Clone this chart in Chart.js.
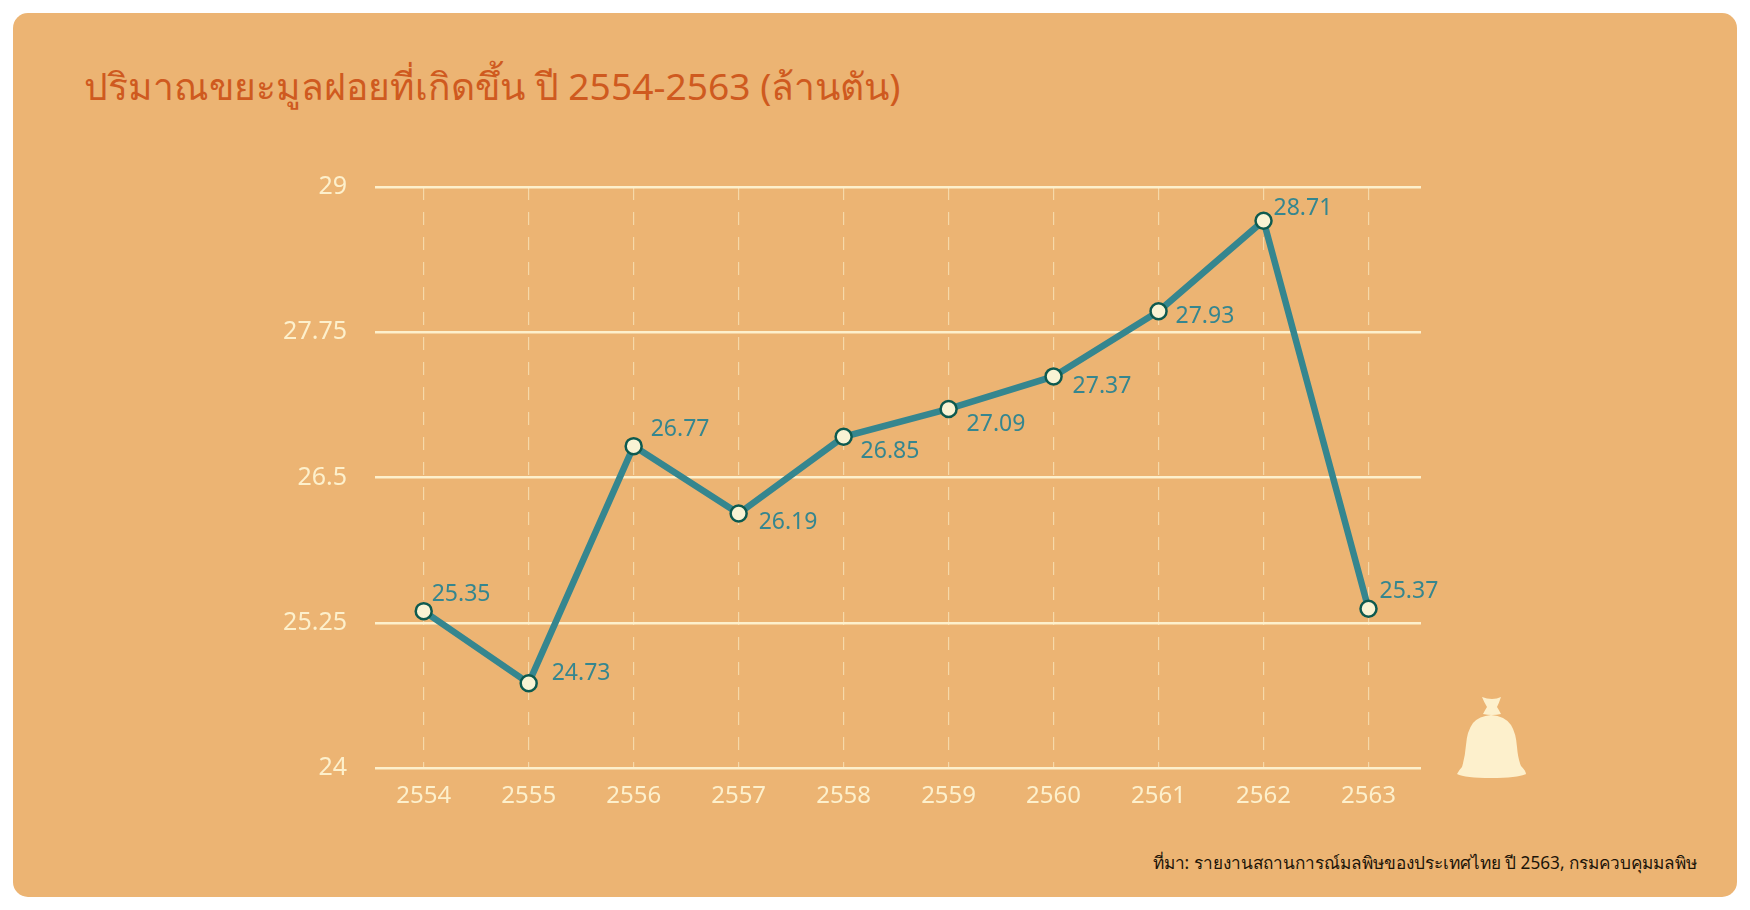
<!DOCTYPE html>
<html lang="th">
<head>
<meta charset="utf-8">
<title>ปริมาณขยะมูลฝอยที่เกิดขึ้น</title>
<script src="https://cdn.jsdelivr.net/npm/chart.js"></script>
<style>
    html, body { margin: 0; padding: 0; background: #fff; }
    body { width: 1750px; height: 910px; position: relative; overflow: hidden; font-family: "Noto Sans", "DejaVu Sans", sans-serif; }
    .panel { position: absolute; left: 13px; top: 13px; width: 1724px; height: 884px; background: #ecb473; border-radius: 15px; }
    .title { position: absolute; left: 84px; top: 57px; font-size: 37.2px; color: #cf5a1f; white-space: nowrap; }
    .source { position: absolute; right: 53px; top: 849px; font-size: 17.2px; color: #1c1409; white-space: nowrap; }
    canvas { position: absolute; left: 0; top: 0; }
    .bag { position: absolute; left: 1457px; top: 697px; }
</style>
</head>
<body>
<div class="panel"></div>
<div class="title">ปริมาณขยะมูลฝอยที่เกิดขึ้น ปี 2554-2563 (ล้านตัน)</div>
<div class="source">ที่มา: รายงานสถานการณ์มลพิษของประเทศไทย ปี 2563, กรมควบคุมมลพิษ</div>
<svg class="bag" width="69" height="81" viewBox="0 0 69 81">
    <path fill="#fdf0cc" d="M25 0 Q30 2 35 2 Q40 2 44 0 Q42 6 40 10 Q42 13 44 17 Q35 19 26 17 Q28 13 30 10 Q27 5 25 0 Z"/>
    <path fill="#fdf0cc" d="M34 18 Q48 19 54 28 Q59 36 60 50 Q61 62 64 69 Q69 74 69 77 Q60 81 34 81 Q8 81 0 77 Q2 73 5 70 Q8 60 9 48 Q10 34 16 26 Q22 19 34 18 Z"/>
</svg>
<canvas id="chart" width="1750" height="910"></canvas>
<script>
const years = [2554, 2555, 2556, 2557, 2558, 2559, 2560, 2561, 2562, 2563];
const waste = [25.35, 24.73, 26.77, 26.19, 26.85, 27.09, 27.37, 27.93, 28.71, 25.37];
const yTicks = [24, 25.25, 26.5, 27.75, 29];

const cream = "#fdf0cc";
const teal = "#35868f";

// label offset from its point: [dx, dy]
const labelOffsets = [[8, -17], [23, -10], [17, -17], [20, 9], [17, 15], [18, 16], [19, 10], [17, 5], [10, -12], [11, -17]];

// value labels next to the points
const valueLabels = {
    id: "valueLabels",
    afterDatasetsDraw(chart) {
        const ctx = chart.ctx;
        const points = chart.getDatasetMeta(0).data;
        ctx.save();
        ctx.font = "23px 'Noto Sans'";
        ctx.fillStyle = teal;
        ctx.textAlign = "left";
        ctx.textBaseline = "middle";
        points.forEach((p, i) => {
            ctx.fillText(waste[i].toFixed(2), p.x + labelOffsets[i][0], p.y + labelOffsets[i][1]);
        });
        ctx.restore();
    }
};

new Chart(document.getElementById("chart"), {
    type: "line",
    data: {
        datasets: [{
            data: years.map((y, i) => ({ x: y, y: waste[i] })),
            borderColor: teal,
            borderWidth: 6.5,
            tension: 0,
            pointRadius: 8,
            pointBorderWidth: 2.5,
            pointBackgroundColor: "#f9f3d4",
            pointBorderColor: "#0d5a4f",
            clip: false
        }]
    },
    options: {
        responsive: false,
        animation: false,
        layout: { padding: { left: 0, right: 329, top: 187, bottom: 0 } },
        plugins: { legend: { display: false }, tooltip: { enabled: false } },
        scales: {
            x: {
                type: "linear",
                min: 2553.536,
                max: 2563.5,
                afterBuildTicks: (s) => { s.ticks = years.map((v) => ({ value: v })); },
                afterFit: (s) => { s.height = 142; },
                grid: { color: "rgba(253,240,204,0.6)", lineWidth: 1.2, drawTicks: false },
                border: { display: false, dash: [13, 12] },
                ticks: {
                    color: cream,
                    font: { family: "Noto Sans", size: 24 },
                    padding: 14,
                    maxRotation: 0,
                    autoSkip: false,
                    callback: (v) => String(v)
                }
            },
            y: {
                min: 24,
                max: 29,
                afterBuildTicks: (s) => { s.ticks = yTicks.map((v) => ({ value: v })); },
                afterFit: (s) => { s.width = 375; },
                grid: { color: cream, lineWidth: 2.5, drawTicks: false },
                border: { display: false },
                ticks: {
                    color: cream,
                    font: { family: "Noto Sans", size: 25 },
                    padding: 28,
                    callback: (v) => String(v)
                }
            }
        }
    },
    plugins: [valueLabels]
});
</script>
</body>
</html>
